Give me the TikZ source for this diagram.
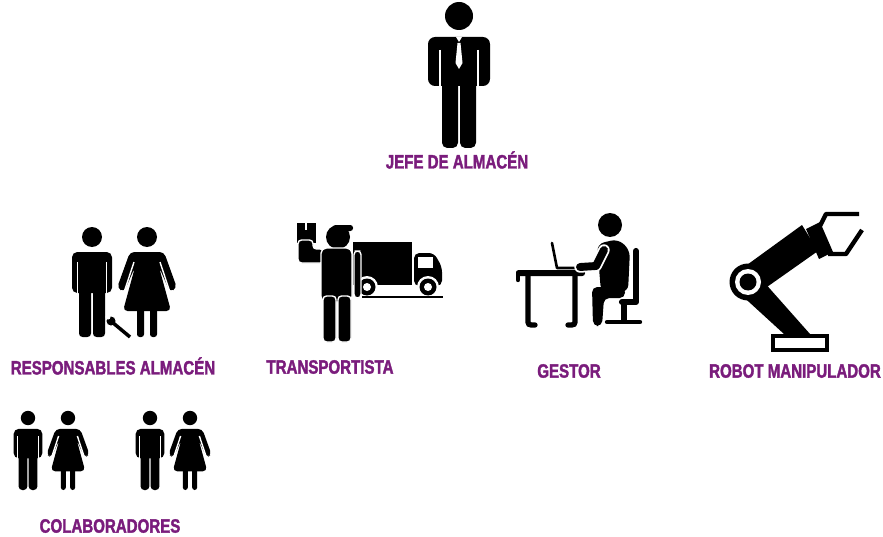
\documentclass[tikz,border=0pt]{standalone}
\usepackage{fontspec}
\setmainfont{Liberation Sans}
\newfontfamily\rolefont[FakeStretch=0.78,FakeBold=1.8]{Liberation Sans}
\usetikzlibrary{positioning}

\definecolor{rolepurple}{RGB}{122,28,124}

\tikzset{
  role/.style={font=\rolefont\bfseries\fontsize{11}{12}\selectfont, text=rolepurple, inner sep=0pt},
  gap/.style={draw=white, line width=0.8pt},
  deskleg/.style={line width=3pt, line cap=round},
  man/.pic={
    \fill (0,0) circle (10);
    \fill[rounded corners=3pt] (-20,15) rectangle (20,56);
    \fill[rounded corners=2pt] (-13,50) rectangle (-1,100);
    \fill[rounded corners=2pt] (1,50) rectangle (13,100);
    \draw[gap] (-14.5,25) -- (-14.5,57) (14.5,25) -- (14.5,57);
  },
  woman/.pic={
    \fill (0,0) circle (10);
    \fill[rounded corners=2.5pt] (-17,15) -- (17,15) -- (30,51) -- (23,55) -- (12,30)
      -- (24,74) -- (-24,74) -- (-12,30) -- (-23,55) -- (-30,51) -- cycle;
    \draw[gap] (13,25) -- (23.5,57) (-13,25) -- (-23.5,57);
    \fill[rounded corners=1.5pt] (-10,70) rectangle (-3,100);
    \fill[rounded corners=1.5pt] (3,70) rectangle (10,100);
  }
}

\begin{document}
\begin{tikzpicture}[x=0.02cm,y=-0.02cm]
\fill[white] (0,0) rectangle (883,537);
\useasboundingbox (0,0) rectangle (883,537);

% jefe
\fill (459,16) circle (14);
\fill[rounded corners=4pt] (428,37) rectangle (490,86);
\fill[rounded corners=3pt] (442,78) rectangle (458,148);
\fill[rounded corners=3pt] (460,78) rectangle (476,148);
\draw[gap, line width=1pt] (440,50) -- (440,87) (478,50) -- (478,87);
\fill[white] (456,37) -- (462,37) -- (459,42) -- cycle;
\fill[white] (457.5,43) -- (460.5,43) -- (462.5,63) -- (459,69) -- (455.5,63) -- cycle;

% responsables
\pic at (92,237) {man};
\pic at (147,237) {woman};
\draw[line width=2pt] (112,322) -- (130,337);
\fill (111,321) circle (4.5);
\fill[white] (108,317) circle (2.5);

% transportista: truck
\fill (353,242) rectangle (412,285);
\fill[rounded corners=3pt] (414,253) -- (434,253) -- (442,267) -- (442,286) -- (414,286) -- cycle;
\fill[white] (418,257) rectangle (433,268);
\foreach \wx in {367,428} {
  \fill[white] (\wx,287) circle (11);
  \fill (\wx,287) circle (8.5);
  \fill[white] (\wx,287) circle (4);
}
\draw[line width=0.6pt] (362,297) -- (443,297);
% transportista: person
\fill (338,237) circle (12);
\fill[rounded corners=1.5pt] (333,225) rectangle (353,231);
\fill (297,223) rectangle (316,243);
\draw[gap] (306,223) -- (306,230);
\filldraw[gap, fill=black, rounded corners=2pt] (298,240) -- (313,240) -- (313,249) -- (324,249) -- (324,263) -- (298,263) -- cycle;
\filldraw[gap, fill=black, rounded corners=3pt] (321,248) rectangle (352,302);
\filldraw[gap, fill=black, rounded corners=2pt] (354,251) rectangle (361,298);
\filldraw[gap, fill=black, rounded corners=2pt] (323,296) rectangle (336,342);
\filldraw[gap, fill=black, rounded corners=2pt] (338,296) rectangle (351,342);

% gestor
\fill[rounded corners=1.5pt] (516,270) rectangle (585,276);
\draw[line width=2.5pt, line cap=round] (518,273) -- (518,280);
\draw[deskleg] (528,276) -- (528,319) .. controls (528,325) .. (535,325);
\draw[deskleg] (575,276) -- (575,319) .. controls (575,325) .. (568,325);
\draw[line width=1.5pt, line cap=round, line join=round] (552,243) -- (557,268) -- (580,268);
\fill (610,225) circle (12);
\fill[rounded corners=4pt] (597,244) -- (618,239) -- (630,250) -- (628,292) -- (601,292) -- cycle;
\draw[white, line width=6.5pt, line cap=round, line join=round] (604,250) -- (596,266) -- (580,267);
\draw[line width=4.5pt, line cap=round, line join=round] (604,250) -- (596,266) -- (580,267);
\fill[rounded corners=3pt] (625,287) -- (625,298) -- (604,298) -- (602,326) -- (593,326) -- (592,287) -- cycle;
\draw[line width=3.5pt, line cap=round, line join=round] (636,251) -- (636,302) -- (622,302);
\draw[line width=3pt] (624,302) -- (624,320);
\draw[line width=2.5pt, line cap=round] (607,322) -- (640,322);

% robot
\draw[line width=1.8pt, fill=white] (773,336) rectangle (827,350);
\fill (737,291) -- (755,272) -- (810,334) -- (784,334) -- cycle;
\fill (740,270) -- (802,225) -- (818,251) -- (757,294) -- cycle;
\fill (806,229) -- (820,222) -- (833,252) -- (819,259) -- cycle;
\draw[line width=2.5pt, line join=round] (818,230) -- (826,214) -- (859,214);
\draw[line width=2.5pt, line join=round] (828,254) -- (846,254) -- (862,230);
\fill (748,282) circle (18.5);
\fill[white] (748,282) circle (13);
\fill (748,282) circle (8.5);

% colaboradores
\pic[scale=0.72] at (28,418) {man};
\pic[scale=0.72] at (68,418) {woman};
\pic[scale=0.72] at (150,418) {man};
\pic[scale=0.72] at (190,418) {woman};

\node[role] (jefe) at (457,160) {JEFE DE ALMACÉN};
\node[role] (resp) at (113,366) {RESPONSABLES ALMACÉN};
\node[role] (trans) at (330,367) {TRANSPORTISTA};
\node[role] (gestor) at (569,371) {GESTOR};
\node[role] (robot) at (795,371) {ROBOT MANIPULADOR};
\node[role] (colab) at (110,526) {COLABORADORES};
\end{tikzpicture}
\end{document}
